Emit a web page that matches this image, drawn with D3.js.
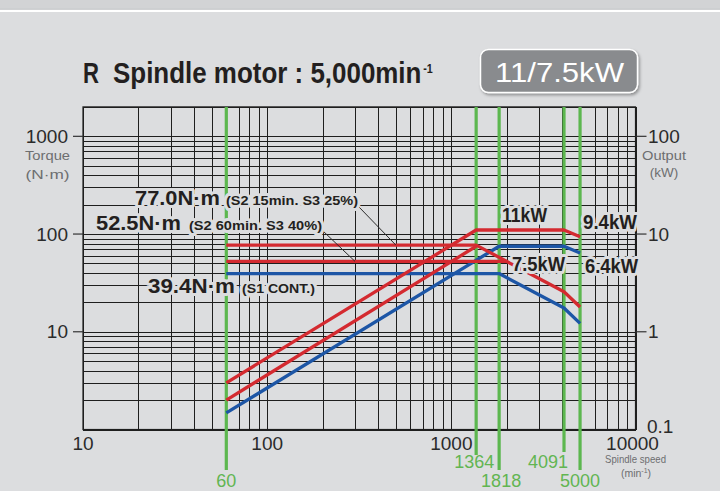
<!DOCTYPE html>
<html><head><meta charset="utf-8">
<script src="https://cdn.jsdelivr.net/npm/d3@7"></script>
<style>html,body{margin:0;padding:0;background:#dcdddf;}svg{display:block;}</style>
</head><body>
<svg id="c" width="720" height="491"></svg>
<script>
// ---------------- data ----------------
const speedTicks = [10, 100, 1000, 10000];
const torqueTicks = [1000, 100, 10];
const outputTicks = [100, 10, 1, 0.1];
const markerSpeeds = [60, 1364, 1818, 4091, 5000];

// S2 15min / S3 25% (red)
const s2_15_speed = [60, 1364, 4091, 5000];
const s2_15_torque = [77.0, 77.0, 25.7, 17.9];
const s2_15_power = [0.30, 11, 11, 9.4];
// S2 60min / S3 40% (red)
const s2_60_torqueSpeed = [60, 2000];
const s2_60_torque = [52.5, 52.5];
const s2_60_powerSpeed = [60, 1364];
const s2_60_power = [0.20, 7.5];
// S1 continuous (blue)
const s1_speed = [60, 1818, 4091, 5000];
const s1_torque = [39.4, 39.4, 17.5, 12.2];
const s1_power = [0.148, 7.5, 7.5, 6.4];

// ---------------- layout ----------------
const BG = '#dcdddf', RED = '#d42a30', BLUE = '#1d56a6', GREEN = '#5cb74f', GREEN_T = '#62b552';
const FONT = '"Liberation Sans", Arial, sans-serif';
const svg = d3.select('#c');
const x = d3.scaleLog().domain([10, 10000]).range([83, 635.5]);
const y = d3.scaleLog().domain([1, 2000]).range([429.5, 106.9]);
const yP = d3.scaleLog().domain([0.1, 200]).range([429.5, 106.9]);

svg.append('rect').attr('width', 720).attr('height', 491).attr('fill', BG);
svg.append('rect').attr('width', 720).attr('height', 8.5).attr('fill', '#d2d3d5');
svg.append('line').attr('x1', 0).attr('x2', 720).attr('y1', 9).attr('y2', 9).attr('stroke', '#c4c5c7').attr('stroke-width', 1.2);
svg.append('line').attr('x1', 0).attr('x2', 720).attr('y1', 11).attr('y2', 11).attr('stroke', '#ffffff').attr('stroke-width', 2);

// title
const tg = svg.append('g').attr('font-family', FONT).attr('font-weight', 'bold').attr('fill', '#231f20');
tg.append('text').attr('x', 83).attr('y', 83).attr('font-size', 29).attr('textLength', 16).attr('lengthAdjust', 'spacingAndGlyphs').text('R');
const tt = tg.append('text').attr('transform', 'translate(113,83) scale(0.895,1)').attr('font-size', 29);
tt.append('tspan').text('Spindle motor : 5,000min');
tt.append('tspan').attr('font-size', 12).attr('dx', 2).attr('dy', -10).text('-1');

// badge
const defs = svg.append('defs');
const f = defs.append('filter').attr('id', 'sh').attr('x', '-20%').attr('y', '-20%').attr('width', '140%').attr('height', '150%');
f.append('feDropShadow').attr('dx', 1.5).attr('dy', 2).attr('stdDeviation', 1.5).attr('flood-color', '#000').attr('flood-opacity', 0.35);
svg.append('rect').attr('x', 480.5).attr('y', 49.5).attr('width', 157).attr('height', 43).attr('rx', 8)
  .attr('fill', '#898b8e').attr('stroke', '#ffffff').attr('stroke-width', 1.5).attr('filter', 'url(#sh)');
svg.append('text').attr('x', 495).attr('y', 81.5).attr('font-family', FONT).attr('font-size', 28).attr('fill', '#fff')
  .attr('textLength', 129).attr('lengthAdjust', 'spacingAndGlyphs').text('11/7.5kW');

// grid
const vGrid = [];
for (let k = 10; k < 10000; k *= 10) for (let m = 1; m < 10; m++) vGrid.push(k * m);
vGrid.push(10000);
const hGrid = [];
for (let k = 1; k < 1000; k *= 10) for (let m = 1; m < 10; m++) hGrid.push(k * m);
hGrid.push(1000, 2000);
const grid = svg.append('g').attr('stroke', '#1e1e1e').attr('stroke-width', 1).attr('shape-rendering', 'crispEdges');
grid.selectAll('line.v').data(vGrid).join('line').attr('class', 'v')
  .attr('x1', d => Math.round(x(d)) + 0.5).attr('x2', d => Math.round(x(d)) + 0.5)
  .attr('y1', y(2000)).attr('y2', y(1));
grid.selectAll('line.h').data(hGrid).join('line').attr('class', 'h')
  .attr('y1', d => Math.round(y(d)) + 0.5).attr('y2', d => Math.round(y(d)) + 0.5)
  .attr('x1', x(10)).attr('x2', x(10000));
svg.append('rect').attr('x', x(10)).attr('y', y(2000)).attr('width', x(10000) - x(10)).attr('height', y(1) - y(2000))
  .attr('fill', 'none').attr('stroke', '#1e1e1e').attr('stroke-width', 1.2);

// axis ticks (left, right)
const ax = svg.append('g').attr('font-family', FONT).attr('fill', '#2b2b2b');
svg.selectAll('line.lt').data(torqueTicks).join('line').attr('class', 'lt')
  .attr('x1', x(10) - 10).attr('x2', x(10)).attr('y1', d => y(d)).attr('y2', d => y(d)).attr('stroke', '#333').attr('stroke-width', 1.2);
svg.selectAll('line.rt').data(outputTicks.filter(d => d > 0.1)).join('line').attr('class', 'rt')
  .attr('x1', x(10000)).attr('x2', x(10000) + 11).attr('y1', d => yP(d)).attr('y2', d => yP(d)).attr('stroke', '#333').attr('stroke-width', 1.2);
ax.selectAll('text.lt').data(torqueTicks).join('text').attr('class', 'lt')
  .attr('x', 68).attr('y', d => y(d) + 6.5).attr('text-anchor', 'end').attr('font-size', 19).text(d => d);
ax.selectAll('text.rt').data(outputTicks).join('text').attr('class', 'rt')
  .attr('x', d => d === 0.1 ? 647 : 648).attr('y', d => d === 0.1 ? 433 : yP(d) + 6.5).attr('font-size', 19).text(d => d);
ax.selectAll('text.bt').data(speedTicks).join('text').attr('class', 'bt')
  .attr('x', d => x(d) - (d === 10000 ? 3 : 0)).attr('y', 450).attr('text-anchor', 'middle').attr('font-size', 19).text(d => d);

const small = svg.append('g').attr('font-family', FONT).attr('fill', '#6d6e70').attr('text-anchor', 'middle');
small.append('text').attr('x', 47.5).attr('y', 160).attr('font-size', 13.5).attr('textLength', 45).attr('lengthAdjust', 'spacingAndGlyphs').text('Torque');
small.append('text').attr('x', 47.5).attr('y', 179).attr('font-size', 13.5).attr('textLength', 44).attr('lengthAdjust', 'spacingAndGlyphs').text('(N·m)');
small.append('text').attr('x', 664).attr('y', 160).attr('font-size', 13.5).attr('textLength', 44).attr('lengthAdjust', 'spacingAndGlyphs').text('Output');
small.append('text').attr('x', 664).attr('y', 177).attr('font-size', 13.5).text('(kW)');
small.append('text').attr('x', 635.5).attr('y', 463).attr('font-size', 10.5).attr('textLength', 61).attr('lengthAdjust', 'spacingAndGlyphs').text('Spindle speed');
const mt = small.append('text').attr('x', 636).attr('y', 477).attr('font-size', 10.5);
mt.append('tspan').text('(min');
mt.append('tspan').attr('font-size', 7).attr('dy', -4).text('-1');
mt.append('tspan').attr('dy', 4).text(')');

// green marker lines
const longMark = new Set([60, 1818, 5000]);
svg.selectAll('line.g').data(markerSpeeds).join('line').attr('class', 'g')
  .attr('x1', d => x(d)).attr('x2', d => x(d)).attr('y1', y(2000))
  .attr('y2', d => longMark.has(d) ? 470 : (d === 1364 ? 455 : 452))
  .attr('stroke', GREEN).attr('stroke-width', 3.2);
svg.selectAll('text.g').data(markerSpeeds).join('text').attr('class', 'g')
  .attr('font-family', FONT).attr('font-size', 18).attr('fill', GREEN_T).attr('text-anchor', 'middle')
  .attr('x', d => x(d) + (d === 1364 ? -2 : d === 4091 ? -16 : d === 1818 ? 2 : 0))
  .attr('y', d => longMark.has(d) ? 486.5 : 468).text(d => d);

// curves
const lineT = d3.line().x(d => x(d[0])).y(d => y(d[1]));
const lineP = d3.line().x(d => x(d[0])).y(d => yP(d[1]));
const zip = (a, b) => a.map((v, i) => [v, b[i]]);
const curves = svg.append('g').attr('fill', 'none').attr('stroke-width', 3.3).attr('stroke-linejoin', 'round');
curves.append('path').attr('d', lineT(zip(s1_speed, s1_torque))).attr('stroke', BLUE);
curves.append('path').attr('d', lineP(zip(s1_speed, s1_power))).attr('stroke', BLUE);
curves.append('path').attr('d', lineT(zip(s2_60_torqueSpeed, s2_60_torque))).attr('stroke', RED);
curves.append('path').attr('d', lineP(zip(s2_60_powerSpeed, s2_60_power))).attr('stroke', RED);
curves.append('path').attr('d', lineT(zip(s2_15_speed, s2_15_torque))).attr('stroke', RED);
curves.append('path').attr('d', lineP(zip(s2_15_speed, s2_15_power))).attr('stroke', RED);

// leader lines
const lead = svg.append('g').attr('stroke', '#2b2b2b').attr('stroke-width', 1);
lead.append('line').attr('x1', 359).attr('y1', 207).attr('x2', x(500)).attr('y2', y(s2_15_torque[0]));
lead.append('line').attr('x1', 323).attr('y1', 231).attr('x2', x(300)).attr('y2', y(s2_60_torque[0]));

// annotation labels
const lab = svg.append('g').attr('font-family', FONT).attr('font-weight', 'bold').attr('fill', '#231f20')
  .attr('stroke', BG).attr('stroke-width', 6).attr('stroke-linejoin', 'round').attr('paint-order', 'stroke');
function L(txt, x0, yb, fs, len) {
  lab.append('text').attr('x', x0).attr('y', yb).attr('font-size', fs)
    .attr('textLength', len).attr('lengthAdjust', 'spacingAndGlyphs').text(txt);
}
L(d3.format('.1f')(s2_15_torque[0]) + 'N·m', 135, 205, 21, 85);
L('(S2 15min. S3 25%)', 226, 205, 13, 132);
L(d3.format('.1f')(s2_60_torque[0]) + 'N·m', 96, 229.5, 21, 85);
L('(S2 60min. S3 40%)', 189, 229.5, 13, 133);
L(d3.format('.1f')(s1_torque[0]) + 'N·m', 148, 293, 21, 87);
L('(S1 CONT.)', 242, 293, 13, 73);
L(s2_15_power[1] + 'kW', 502, 222, 20, 45);
L(s2_15_power[3] + 'kW', 583, 229, 20, 54);
L(s1_power[1] + 'kW', 512, 271, 20, 53);
L(s1_power[3] + 'kW', 585, 273, 20, 53);
</script>
</body></html>
